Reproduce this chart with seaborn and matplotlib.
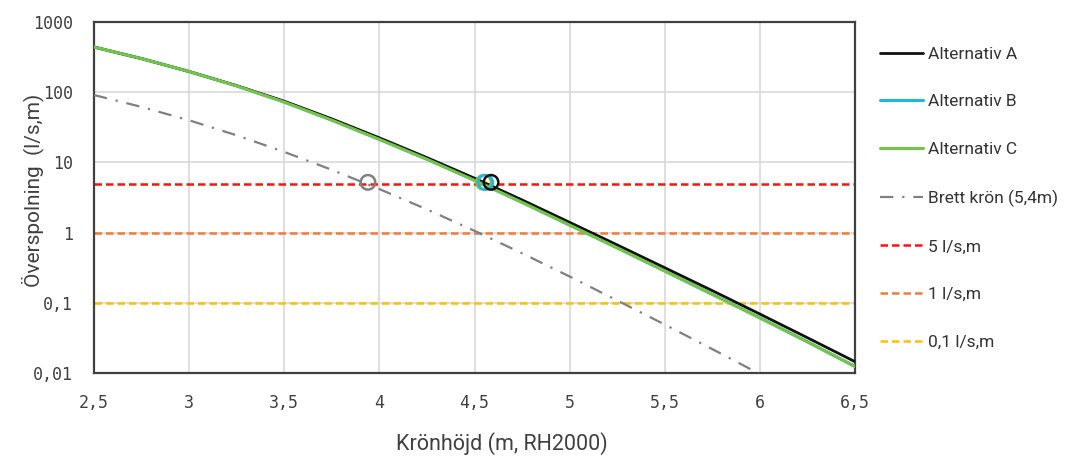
import numpy as np
import pandas as pd
import matplotlib
matplotlib.use("Agg")
import matplotlib.pyplot as plt
import seaborn as sns
from matplotlib.ticker import FixedLocator, FixedFormatter, NullLocator

# ---------------- data ----------------
kronhojd = [2.5, 2.75, 3.0, 3.25, 3.5, 3.75, 4.0, 4.25, 4.5, 4.75, 5.0, 5.25, 5.5, 5.75, 6.0, 6.25, 6.5]
alt_a = [440, 301, 197, 124, 74.5, 41.7, 22.4, 11.7, 5.96, 2.92, 1.40, 0.668, 0.316, 0.149, 0.0692, 0.0318, 0.0145]
alt_b = [440, 301, 197, 123, 72.4, 40.0, 21.3, 11.1, 5.56, 2.70, 1.28, 0.607, 0.284, 0.132, 0.0611, 0.0278, 0.0124]
alt_c = [440, 301, 197, 123, 72.4, 40.0, 21.3, 11.1, 5.56, 2.70, 1.28, 0.607, 0.284, 0.132, 0.0611, 0.0278, 0.0124]
brett_x = [2.5, 2.75, 3.0, 3.25, 3.5, 3.75, 4.0, 4.25, 4.5, 4.75, 5.0, 5.25, 5.5, 5.75, 6.0]
brett = [91.2, 61.7, 39.8, 24.3, 14.1, 7.85, 4.17, 2.14, 1.06, 0.507, 0.237, 0.108, 0.049, 0.0219, 0.00966]

limits = [5, 1, 0.1]
limit_labels = ["5 l/s,m", "1 l/s,m", "0,1 l/s,m"]

# marked points (crest height where overtopping = 5 l/s,m)
mark_series = ["Brett krön (5,4m)", "Alternativ C", "Alternativ B", "Alternativ A"]
mark_x = [3.94, 4.548, 4.558, 4.587]
mark_y = [5.2, 5.2, 5.2, 5.2]

x_ticks = [2.5, 3, 3.5, 4, 4.5, 5, 5.5, 6, 6.5]
x_ticklabels = ["2,5", "3", "3,5", "4", "4,5", "5", "5,5", "6", "6,5"]
y_ticks = [0.01, 0.1, 1, 10, 100, 1000]
y_ticklabels = ["0,01", "0,1", "1", "10", "100", "1000"]

series_names = ["Alternativ A", "Alternativ B", "Alternativ C", "Brett krön (5,4m)"]

# ---------------- styling ----------------
sns.set_theme(style="white")
plt.rcParams["font.family"] = ["Roboto", "DejaVu Sans"]

colors = {
    "Alternativ A": "#111111",
    "Alternativ B": "#1FB3E8",
    "Alternativ C": "#74C445",
    "Brett krön (5,4m)": "#808080",
}
limit_colors = ["#FF1010", "#F07B3A", "#FFC000"]
text_col = "#404040"

df = pd.concat([
    pd.DataFrame({"x": kronhojd, "y": alt_b, "serie": "Alternativ B"}),
    pd.DataFrame({"x": kronhojd, "y": alt_a, "serie": "Alternativ A"}),
    pd.DataFrame({"x": kronhojd, "y": alt_c, "serie": "Alternativ C"}),
    pd.DataFrame({"x": brett_x, "y": brett, "serie": "Brett krön (5,4m)"}),
], ignore_index=True)

fig = plt.figure(figsize=(10.72, 4.61), dpi=100)
ax = fig.add_axes([94 / 1072, 1 - 373 / 461, (855 - 94) / 1072, (373 - 22) / 461])

handles = {}
for name, lw, ls in [("Alternativ B", 2.2, "-"), ("Alternativ A", 2.0, "-"),
                     ("Alternativ C", 2.2, "-"), ("Brett krön (5,4m)", 1.6, (0, (6, 4, 1, 4)))]:
    sub = df[df["serie"] == name]
    sns.lineplot(data=sub, x="x", y="y", ax=ax, color=colors[name], linewidth=lw,
                 linestyle=ls, sort=True, estimator=None, label=name, zorder=3)
    handles[name] = ax.lines[-1]

limit_handles = []
for val, col, lab in zip(limits, limit_colors, limit_labels):
    h = ax.axhline(val, color=col, linewidth=1.8, linestyle=(0, (3, 1.6)), label=lab, zorder=2)
    limit_handles.append(h)

for sname, mx, my in zip(mark_series, mark_x, mark_y):
    sns.scatterplot(x=[mx], y=[my], ax=ax, s=110, facecolors="none",
                    edgecolor=colors[sname], linewidth=1.8, zorder=5, legend=False)

ax.set_yscale("log")
ax.set_xlim(2.5, 6.5)
ax.set_ylim(0.01, 1000)
ax.xaxis.set_major_locator(FixedLocator(x_ticks))
ax.xaxis.set_major_formatter(FixedFormatter(x_ticklabels))
ax.yaxis.set_major_locator(FixedLocator(y_ticks))
ax.yaxis.set_major_formatter(FixedFormatter(y_ticklabels))
ax.yaxis.set_minor_locator(NullLocator())
ax.grid(True, which="major", color="#D9D9D9", linewidth=1.2, zorder=0)
ax.set_axisbelow(True)
ax.tick_params(axis="both", which="both", length=0, labelsize=12, colors=text_col)
ax.tick_params(axis="x", pad=15)
ax.tick_params(axis="y", pad=15)
for lab in ax.get_xticklabels() + ax.get_yticklabels():
    lab.set_family(["DejaVu Sans Mono"])
for s in ax.spines.values():
    s.set_color("#404040")
    s.set_linewidth(1.6)

ax.set_xlabel("Krönhöjd (m, RH2000)", fontsize=15.5, color=text_col)
ax.xaxis.set_label_coords(0.536, -0.168)
ax.set_ylabel("Överspolning  (l/s,m)", fontsize=15, color=text_col)
ax.yaxis.set_label_coords(-0.066, 0.52)

if ax.get_legend():
    ax.get_legend().remove()
leg_handles = [handles[n] for n in series_names] + limit_handles
leg_labels = series_names + limit_labels
fig.legend(leg_handles, leg_labels, loc="upper left", bbox_to_anchor=(864 / 1072, 1 - 31 / 461),
           frameon=False, fontsize=12.5, labelspacing=1.87, handlelength=2.5,
           handletextpad=0.3, labelcolor="#333333")

fig.savefig("out.png", dpi=100)
